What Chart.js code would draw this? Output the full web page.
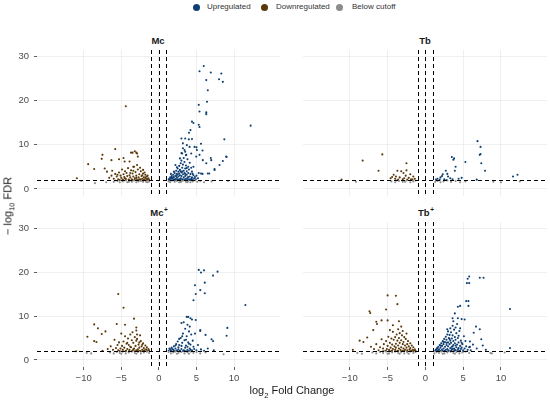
<!DOCTYPE html>
<html>
<head>
<meta charset="utf-8">
<script src="https://cdn.jsdelivr.net/npm/chart.js@4.4.1/dist/chart.umd.min.js"></script>
<style>
  body { margin: 0; width: 550px; height: 400px; background: #fff; position: relative; overflow: hidden;
         font-family: "Liberation Sans", Arial, sans-serif; }
  .panel { position: absolute; }
  .strip { position: absolute; transform: translate(-50%, -50%); font-size: 9.5px; font-weight: bold; color: #1a1a1a; white-space: nowrap; }
  .strip .sp { font-size: 6.5px; position: relative; top: -4px; margin-left: 0.5px; }
  .legend { position: absolute; top: 1px; left: 0; width: 550px; font-size: 8px; color: #333; }
  .legend span { position: absolute; top: 0; white-space: nowrap; line-height: 12px; }
  .dot { position: absolute; top: 3px; width: 7px; height: 7px; border-radius: 50%; }
  .xtitle { position: absolute; left: 292px; top: 392px; transform: translate(-50%, -50%); font-size: 11px; color: #1a1a1a; white-space: nowrap; }
  .ytitle { position: absolute; left: 9px; top: 206px; transform: translate(-50%, -50%) rotate(-90deg); font-size: 11px; color: #1a1a1a; white-space: nowrap; }
  sub { font-size: 7.5px; }
</style>
</head>
<body>

<div class="legend">
  <div class="dot" style="left:193px;background:#0f3f73"></div><span style="left:207px">Upregulated</span>
  <div class="dot" style="left:261px;background:#5a3808"></div><span style="left:276px">Downregulated</span>
  <div class="dot" style="left:336px;background:#8c8c8c"></div><span style="left:352px">Below cutoff</span>
</div>

<div class="strip" style="left:158px;top:40px">Mc</div>
<div class="strip" style="left:425px;top:40px">Tb</div>
<div class="strip" style="left:159px;top:212px">Mc<span class="sp">+</span></div>
<div class="strip" style="left:426px;top:212px">Tb<span class="sp">+</span></div>

<div class="panel" style="left:0;top:50px;width:280px;height:146px"><canvas id="mc"></canvas></div>
<div class="panel" style="left:303px;top:50px;width:244px;height:146px"><canvas id="tb"></canvas></div>
<div class="panel" style="left:0;top:222px;width:280px;height:167px"><canvas id="mcp"></canvas></div>
<div class="panel" style="left:303px;top:222px;width:244px;height:167px"><canvas id="tbp"></canvas></div>

<div class="ytitle">&minus; log<sub>10</sub> FDR</div>
<div class="xtitle">log<sub>2</sub> Fold Change</div>

<script>
// axis ranges and ticks
const xMin = -16.2, xMax = 16.1;
const yMin = -1.6, yMax = 31.4;
const xTicks = [-10, -5, 0, 5, 10];
const yTicks = [0, 10, 20, 30];
const fcLines = [-1, 0, 1];
const fdrCut = 2;

const upColor = "#0f3f73";
const downColor = "#5a3808";
const greyColor = "#8c8c8c";

// points as flat [log2FC, -log10FDR, ...] pairs
const mcUp = [5.96,27.8, 5.4,26.6, 6.9,26.3, 8.3,26.1, 8.0,24.8, 8.5,24.2, 6.3,24.6, 6.5,22.3, 6.4,19.7, 5.3,19.0,
  5.4,17.5, 6.3,17.3, 6.3,16.9, 4.4,15.2, 4.6,14.9, 5.3,14.5, 5.4,14.0, 4.2,13.3, 4.0,12.7, 12.2,14.3,
  8.7,11.2, 3.5,11.4, 4.4,11.3, 9.0,7.2, 8.5,6.3, 7.4,4.5, 6.9,7.0, 5.8,8.7, 5.6,10.2, 5.0,9.4,
  5.8,3.4, 5.3,3.6, 6.7,3.5, 4.6,5.0, 3.0,11.4, 3.98,11.2, 3.19,10.3, 3.72,9.9, 4.08,9.5, 4.74,9.5,
  5.05,8.8, 3.41,8.8, 3.1,8.0, 3.64,7.7, 4.3,8.0, 4.97,7.3, 5.4,7.7, 5.84,6.5, 6.3,5.8, 6.96,6.5,
  7.4,4.3, 8.06,5.4, 8.95,7.3, 5.6,3.5, 6.5,3.5,
  1.3,2.1, 1.4,2.3, 1.5,2.6, 1.6,2.2, 1.7,2.9, 1.8,2.4, 1.9,3.2, 2.0,2.1, 2.0,2.7, 2.1,3.6,
  2.2,2.3, 2.2,3.0, 2.3,4.1, 2.4,2.5, 2.4,3.4, 2.5,2.1, 2.5,4.6, 2.6,2.8, 2.6,3.9, 2.7,2.2,
  2.7,5.2, 2.8,3.1, 2.8,4.3, 2.9,2.4, 2.9,5.8, 3.0,2.9, 3.0,3.7, 3.0,6.4, 3.1,2.2, 3.1,4.8,
  3.2,3.3, 3.2,5.5, 3.3,2.6, 3.3,4.1, 3.3,7.0, 3.4,2.1, 3.4,3.6, 3.4,6.1, 3.5,2.9, 3.5,4.6,
  3.6,2.3, 3.6,5.3, 3.6,7.6, 3.7,3.2, 3.7,4.0, 3.8,2.5, 3.8,6.7, 3.9,3.6, 3.9,5.0, 4.0,2.2,
  4.0,4.4, 4.1,2.8, 4.1,5.9, 4.2,3.4, 4.3,2.3, 4.3,4.8, 4.4,2.6, 4.4,3.9, 4.5,2.1, 4.6,3.1,
  4.7,2.4, 4.8,2.7, 4.9,2.2, 5.0,3.0, 5.2,2.4, 1.5,2.0, 1.8,2.0, 2.1,2.0, 2.3,2.0, 2.6,2.05,
  2.9,2.0, 3.2,2.05, 3.5,2.0, 3.8,2.05, 4.1,2.0, 4.4,2.05, 1.6,3.4, 2.0,3.9, 2.4,4.9, 2.2,5.4,
  2.8,6.9, 3.0,8.1, 3.5,8.4, 3.2,9.2, 1.9,2.6, 2.3,2.9, 2.7,3.5, 3.1,3.9, 3.5,3.4, 3.9,2.7,
  4.2,2.05, 1.4,2.05, 1.7,2.5, 2.5,3.2, 2.9,4.0, 3.7,4.7, 4.5,3.4];
const mcDown = [-4.4,18.7, -5.8,9.0, -7.5,7.7, -7.6,6.8, -9.4,5.6, -8.6,4.5, -10.9,2.4, -3.2,8.5, -3.0,8.2, -3.5,8.2,
  -4.7,7.0, -5.3,6.7, -3.7,8.2, -2.9,8.0, -2.8,7.3, -6.3,6.5, -4.55,6.2, -3.9,6.2, -3.4,5.0,
  -1.3,2.1, -1.4,2.4, -1.5,2.2, -1.6,2.8, -1.7,2.3, -1.8,3.2, -1.9,2.1, -2.0,2.6, -2.1,3.5, -2.2,2.3,
  -2.3,2.9, -2.4,4.0, -2.5,2.2, -2.6,3.3, -2.7,2.6, -2.8,4.4, -2.9,2.1, -3.0,3.0, -3.1,3.8, -3.2,2.4,
  -3.3,5.0, -3.4,2.8, -3.5,3.5, -3.6,2.2, -3.7,4.2, -3.8,2.6, -3.9,3.1, -4.0,2.1, -4.1,4.7, -4.2,2.9,
  -4.3,3.6, -4.4,2.3, -4.5,4.0, -4.6,2.7, -4.7,3.3, -4.8,2.1, -4.9,4.4, -5.0,2.5, -5.1,3.0, -5.3,3.7,
  -5.4,2.2, -5.6,2.8, -5.8,3.4, -6.0,2.3, -6.3,3.0, -6.6,2.5, -6.9,3.9, -2.0,2.0, -2.4,2.05, -2.8,2.0,
  -3.2,2.05, -3.6,2.0, -4.0,2.05, -4.4,2.0, -4.8,2.05, -5.2,2.0, -1.6,2.0, -1.8,2.6, -2.2,3.1, -2.6,2.1,
  -3.0,2.5, -3.4,4.1, -3.8,3.6, -2.5,4.8, -2.9,5.4, -2.1,4.3, -1.9,3.7, -1.5,3.0, -3.5,2.0, -4.5,2.4,
  -5.5,3.2, -6.2,4.1, -7.2,4.6];
const mcGrey = [-6.0,1.6, -5.5,1.8, -5.2,1.5, -4.8,1.7, -4.5,1.9, -4.2,1.5, -3.9,1.8, -3.6,1.6, -3.3,1.9, -3.0,1.5,
  -2.7,1.7, -2.4,1.8, -2.1,1.6, -1.8,1.9, -1.5,1.5, -1.3,1.7, -5.8,1.9, -4.0,1.6, -2.9,1.9, -1.7,1.6,
  -8.5,1.3, -10.3,1.8, -7.0,1.5,
  1.3,1.7, 1.5,1.5, 1.8,1.9, 2.1,1.6, 2.4,1.8, 2.7,1.5, 3.0,1.7, 3.3,1.9, 3.6,1.6, 3.9,1.8,
  4.2,1.5, 4.5,1.7, 4.8,1.9, 5.1,1.6, 5.5,1.8, 6.0,1.5, 1.6,1.9, 2.9,1.6, 3.8,1.5, 9.2,1.8, 7.0,1.7];

const tbUp = [6.9,10.8, 7.3,9.5, 7.3,7.9, 7.2,7.7, 7.4,5.8, 7.9,4.1, 3.5,7.2, 3.8,6.9, 3.7,6.6, 5.3,6.1,
  4.0,5.0, 3.9,4.1, 2.7,4.1, 2.9,3.4, 12.2,3.2, 11.6,2.8, 2.3,3.3, 2.0,2.6, 1.6,2.3, 2.5,2.2,
  3.0,2.8, 3.3,2.4, 1.9,2.1, 2.2,2.9, 3.6,2.2, 4.4,2.3, 4.8,2.5, 1.4,2.1, 2.8,2.0, 6.8,2.1];
const tbDown = [-8.3,6.4, -5.7,7.8, -6.2,4.1, -2.5,5.8, -3.7,4.1, -3.2,4.0, -2.9,3.6, -4.2,3.2, -4.6,2.4, -3.9,2.8,
  -3.4,2.6, -2.6,3.0, -2.2,2.5, -1.9,2.2, -1.6,2.8, -1.4,2.3, -2.4,2.1, -3.0,2.2, -3.6,2.1, -4.0,2.3,
  -4.4,2.7, -2.8,2.4, -2.0,3.3, -1.7,2.1, -2.5,4.2, -11.1,2.1];
const tbGrey = [-4.5,1.7, -4.0,1.5, -3.5,1.8, -3.0,1.6, -2.5,1.9, -2.0,1.5, -1.6,1.7, -1.3,1.9, -3.8,1.9, -2.7,1.6,
  -9.2,1.6, 1.3,1.6, 1.6,1.8, 2.0,1.5, 2.4,1.7, 2.9,1.9, 3.4,1.6, 4.0,1.8, 4.6,1.5, 5.3,1.7,
  10.0,1.5, 9.0,1.6, 12.5,1.7];

const mcpUp = [5.3,20.5, 5.6,19.9, 6.0,20.4, 7.8,20.1, 7.2,19.2, 6.1,17.6, 4.8,17.0, 5.5,15.9, 4.9,15.0, 6.1,15.2,
  4.6,13.6, 11.5,12.5, 3.9,9.8, 3.7,9.8, 4.2,9.5, 4.9,9.1, 5.5,6.8, 5.5,6.6, 6.2,5.7, 7.2,4.3,
  7.0,4.7, 9.1,7.3, 9.0,5.5, 3.0,8.4,
  1.3,2.1, 1.5,2.4, 1.6,2.2, 1.7,2.8, 1.9,2.3, 2.0,3.1, 2.1,2.1, 2.2,2.6, 2.3,3.6, 2.4,2.2,
  2.5,4.2, 2.6,2.9, 2.7,3.4, 2.8,2.1, 2.9,5.0, 3.0,2.5, 3.1,3.9, 3.2,6.0, 3.3,2.2, 3.4,4.5,
  3.5,2.8, 3.5,7.1, 3.6,3.3, 3.7,5.4, 3.8,2.3, 3.8,8.0, 3.9,4.0, 4.0,6.5, 4.1,2.6, 4.2,3.5,
  4.3,5.8, 4.4,2.2, 4.5,4.4, 4.6,3.0, 4.7,2.5, 4.8,6.0, 5.0,2.2, 5.2,3.4, 5.6,2.4, 6.0,2.1,
  2.0,2.0, 2.4,2.05, 2.8,2.0, 3.2,2.05, 3.6,2.0, 4.0,2.05, 4.4,2.0, 1.8,2.5, 2.2,3.3, 2.6,2.4,
  3.0,3.2, 3.4,2.1, 3.8,3.0, 4.2,2.3, 3.3,8.6, 4.1,7.6, 4.4,9.2, 2.7,4.8, 3.1,5.4, 3.6,4.6,
  4.0,3.7, 1.4,2.6, 6.5,2.6, 7.3,2.2];
const mcpDown = [-5.4,15.0, -4.7,11.9, -3.3,9.4, -5.6,8.2, -4.5,8.0, -8.6,8.1, -8.1,7.2, -7.1,6.5, -7.6,5.9, -9.5,5.3,
  -8.3,4.1, -8.6,4.3, -3.0,7.4, -3.0,6.7, -11.0,2.0,
  -1.3,2.2, -1.4,2.5, -1.5,2.1, -1.6,2.9, -1.7,2.4, -1.8,3.3, -1.9,2.2, -2.0,2.7, -2.1,3.8, -2.2,2.3,
  -2.3,3.1, -2.4,4.3, -2.5,2.1, -2.6,2.8, -2.7,3.5, -2.8,2.4, -2.9,4.8, -3.0,2.2, -3.1,3.2, -3.2,5.2,
  -3.3,2.6, -3.4,3.9, -3.5,2.1, -3.6,4.5, -3.7,2.9, -3.8,5.8, -3.9,2.3, -4.0,3.4, -4.1,4.9, -4.2,2.5,
  -4.3,3.7, -4.4,2.1, -4.5,5.4, -4.6,2.8, -4.7,4.2, -4.8,2.3, -4.9,3.2, -5.0,6.0, -5.1,2.6, -5.3,4.0,
  -5.4,2.2, -5.5,3.4, -5.7,2.7, -5.9,4.6, -6.1,2.3, -6.4,3.1, -1.6,2.0, -2.0,2.05, -2.4,2.0, -2.8,2.05,
  -3.2,2.0, -3.6,2.05, -4.0,2.0, -4.4,2.05, -4.8,2.0, -5.2,2.05, -2.2,3.5, -2.6,4.0, -3.0,4.4, -3.4,2.4,
  -3.8,3.0, -4.2,3.9, -2.9,5.8, -3.5,6.3, -2.5,5.6, -6.8,2.5, -7.5,2.1];
const mcpGrey = [-9.6,1.6, -9.0,1.5, -6.5,1.7, -6.0,1.5, -5.6,1.8, -5.2,1.6, -4.8,1.9, -4.4,1.5, -4.0,1.7, -3.6,1.9,
  -3.2,1.6, -2.8,1.8, -2.4,1.5, -2.0,1.7, -1.6,1.9, -1.3,1.6, -5.0,1.4, -3.0,1.4,
  1.3,1.8, 1.6,1.5, 1.9,1.7, 2.2,1.9, 2.6,1.6, 3.0,1.8, 3.4,1.5, 3.8,1.7, 4.2,1.9, 4.6,1.6,
  5.0,1.8, 5.5,1.5, 6.2,1.7, 2.4,1.4, 4.0,1.4, 8.6,1.3];

const tbpUp = [5.8,19.0, 5.6,18.5, 7.2,18.7, 7.7,18.7, 5.5,17.5, 5.8,17.5, 11.2,11.6, 5.4,13.4, 5.7,13.4, 5.7,12.3,
  4.6,12.3, 4.3,12.1, 3.9,10.6, 3.6,9.5, 4.3,9.5, 4.8,9.3, 5.2,9.2, 6.7,7.6, 7.2,7.0, 7.4,4.7,
  6.4,6.2, 11.2,2.7, 5.9,4.2, 5.9,3.0, 8.0,2.3,
  1.3,2.1, 1.4,2.3, 1.5,2.6, 1.6,2.2, 1.7,3.0, 1.8,2.4, 1.9,3.4, 2.0,2.1, 2.0,2.8, 2.1,3.8,
  2.2,2.3, 2.2,3.2, 2.3,4.3, 2.4,2.6, 2.4,3.6, 2.5,2.1, 2.5,4.8, 2.6,3.0, 2.6,4.1, 2.7,2.3,
  2.7,5.3, 2.8,3.4, 2.8,4.6, 2.9,2.5, 2.9,5.8, 3.0,3.1, 3.0,4.0, 3.0,6.5, 3.1,2.2, 3.1,5.0,
  3.2,3.6, 3.2,5.7, 3.3,2.7, 3.3,4.4, 3.3,7.2, 3.4,2.1, 3.4,3.9, 3.4,6.3, 3.5,3.0, 3.5,4.9,
  3.6,2.4, 3.6,5.6, 3.6,7.8, 3.7,3.4, 3.7,4.3, 3.8,2.6, 3.8,6.9, 3.9,3.8, 3.9,5.2, 4.0,2.2,
  4.0,4.6, 4.1,2.9, 4.1,6.1, 4.2,3.5, 4.2,8.2, 4.3,2.4, 4.3,5.0, 4.4,2.7, 4.4,4.0, 4.5,2.1,
  4.5,6.6, 4.6,3.2, 4.7,2.5, 4.7,4.4, 4.8,2.8, 4.9,3.6, 5.0,2.2, 5.1,5.4, 5.2,2.6, 5.4,3.1,
  5.6,2.3, 5.8,2.9, 1.8,2.0, 2.2,2.05, 2.6,2.0, 3.0,2.05, 3.4,2.0, 3.8,2.05, 4.2,2.0, 4.6,2.05,
  5.0,2.0, 1.6,2.7, 2.0,3.3, 2.4,4.1, 2.8,3.9, 3.2,4.8, 3.6,3.1, 4.0,3.3, 4.4,5.5, 3.7,8.8,
  4.0,7.4, 4.6,7.2, 2.9,7.0, 3.5,2.5, 3.9,2.3, 4.8,3.9, 5.3,4.3, 6.0,2.2, 6.3,3.5, 6.8,2.6, 7.6,3.3];
const tbpDown = [-5.0,14.7, -3.9,14.6, -3.7,12.7, -5.2,11.5, -7.4,11.1, -7.3,10.7, -6.5,8.7, -6.4,8.2, -5.8,9.0, -5.0,9.0,
  -6.9,6.8, -7.7,5.1, -8.7,4.4, -8.2,4.1, -9.6,2.3, -3.5,8.8, -4.3,7.9, -3.2,7.6,
  -1.3,2.1, -1.4,2.4, -1.5,2.2, -1.6,2.9, -1.7,2.3, -1.8,3.3, -1.9,2.1, -2.0,2.7, -2.0,3.8, -2.1,2.4,
  -2.2,3.1, -2.3,4.3, -2.4,2.2, -2.4,3.6, -2.5,2.8, -2.6,4.8, -2.7,2.3, -2.7,3.3, -2.8,5.2, -2.9,2.6,
  -2.9,4.1, -3.0,2.1, -3.0,3.6, -3.1,5.6, -3.2,2.9, -3.2,4.5, -3.3,2.3, -3.4,3.9, -3.4,6.1, -3.5,2.6,
  -3.5,5.0, -3.6,3.3, -3.7,2.1, -3.7,4.4, -3.8,5.8, -3.9,2.8, -3.9,3.7, -4.0,2.3, -4.0,5.2, -4.1,3.1,
  -4.2,4.6, -4.3,2.5, -4.3,6.4, -4.4,3.5, -4.5,2.1, -4.5,4.9, -4.6,2.8, -4.7,3.9, -4.8,2.3, -4.9,5.3,
  -5.0,3.2, -5.1,2.5, -5.2,4.3, -5.3,2.1, -5.5,3.6, -5.6,2.6, -5.8,4.7, -6.0,2.9, -6.2,2.2, -6.5,3.6,
  -6.8,2.5, -7.2,3.0, -1.6,2.0, -2.0,2.05, -2.4,2.0, -2.8,2.05, -3.2,2.0, -3.6,2.05, -4.0,2.0, -4.4,2.05,
  -4.8,2.0, -5.2,2.05, -5.6,2.0, -3.0,6.6, -2.5,6.0, -3.6,7.0, -4.7,6.8];
const tbpGrey = [-9.0,1.6, -8.4,1.4, -7.0,1.7, -6.5,1.5, -6.0,1.8, -5.6,1.6, -5.2,1.9, -4.8,1.5, -4.4,1.7, -4.0,1.9,
  -3.6,1.6, -3.2,1.8, -2.8,1.5, -2.4,1.7, -2.0,1.9, -1.6,1.6, -1.3,1.8, -5.0,1.4, -3.4,1.4, -2.2,1.4,
  1.2,1.5, 1.5,1.8, 1.8,1.6, 2.1,1.9, 2.5,1.5, 2.9,1.7, 3.3,1.9, 3.7,1.6, 4.1,1.8, 4.5,1.5,
  4.9,1.7, 5.3,1.9, 5.8,1.6, 2.3,1.4, 3.9,1.4, 8.6,1.6, 8.8,1.5, 10.5,1.7];

function toPoints(flat) {
  const pts = [];
  for (let i = 0; i < flat.length; i += 2) pts.push({ x: flat[i], y: flat[i + 1] });
  return pts;
}

const minus = v => String(v).replace("-", "\u2212");

// dashed cutoff lines (fold change and FDR thresholds)
const cutoffLines = {
  id: "cutoffLines",
  afterDatasetsDraw(chart) {
    const { ctx, chartArea: a, scales: { x, y } } = chart;
    ctx.save();
    ctx.strokeStyle = "#000";
    ctx.lineWidth = 1;
    ctx.setLineDash([4, 3]);
    ctx.beginPath();
    fcLines.forEach(v => {
      const px = Math.round(x.getPixelForValue(v)) + 0.5;
      ctx.moveTo(px, a.top);
      ctx.lineTo(px, a.bottom);
    });
    const py = Math.round(y.getPixelForValue(fdrCut)) + 0.5;
    ctx.moveTo(a.left, py);
    ctx.lineTo(a.right, py);
    ctx.stroke();
    ctx.restore();
  }
};

function makePanel(id, up, down, grey, showX, showY) {
  const ds = (data, color) => ({
    data: toPoints(data),
    backgroundColor: color,
    borderWidth: 0,
    pointRadius: 1.05,
  });
  new Chart(document.getElementById(id), {
    type: "scatter",
    data: { datasets: [ds(grey, greyColor), ds(down, downColor), ds(up, upColor)] },
    options: {
      responsive: true,
      maintainAspectRatio: false,
      animation: false,
      layout: { padding: 0, autoPadding: false },
      plugins: { legend: { display: false }, tooltip: { enabled: false } },
      scales: {
        x: {
          type: "linear", min: xMin, max: xMax,
          afterBuildTicks: s => { s.ticks = xTicks.map(v => ({ value: v })); },
          afterFit: s => { s.height = showX ? 22 : 0; s.paddingLeft = 0; s.paddingRight = 0; },
          border: { display: false },
          grid: { color: "#ebebeb", lineWidth: 0.8, drawTicks: showX, tickLength: 3, tickColor: "#333" },
          ticks: { display: showX, autoSkip: false, maxRotation: 0, padding: 3, color: "#4d4d4d",
                   font: { family: "Liberation Sans", size: 9.5 }, callback: minus },
        },
        y: {
          type: "linear", min: yMin, max: yMax,
          afterBuildTicks: s => { s.ticks = yTicks.map(v => ({ value: v })); },
          afterFit: s => { s.width = showY ? 37 : 0; s.paddingTop = 0; s.paddingBottom = 0; },
          border: { display: false },
          grid: { color: "#ebebeb", lineWidth: 0.8, drawTicks: showY, tickLength: 3, tickColor: "#333" },
          ticks: { display: showY, autoSkip: false, padding: 5, color: "#4d4d4d",
                   font: { family: "Liberation Sans", size: 9.5 }, callback: minus },
        },
      },
    },
    plugins: [cutoffLines],
  });
}

makePanel("mc", mcUp, mcDown, mcGrey, false, true);
makePanel("tb", tbUp, tbDown, tbGrey, false, false);
makePanel("mcp", mcpUp, mcpDown, mcpGrey, true, true);
makePanel("tbp", tbpUp, tbpDown, tbpGrey, true, false);
</script>
</body>
</html>
